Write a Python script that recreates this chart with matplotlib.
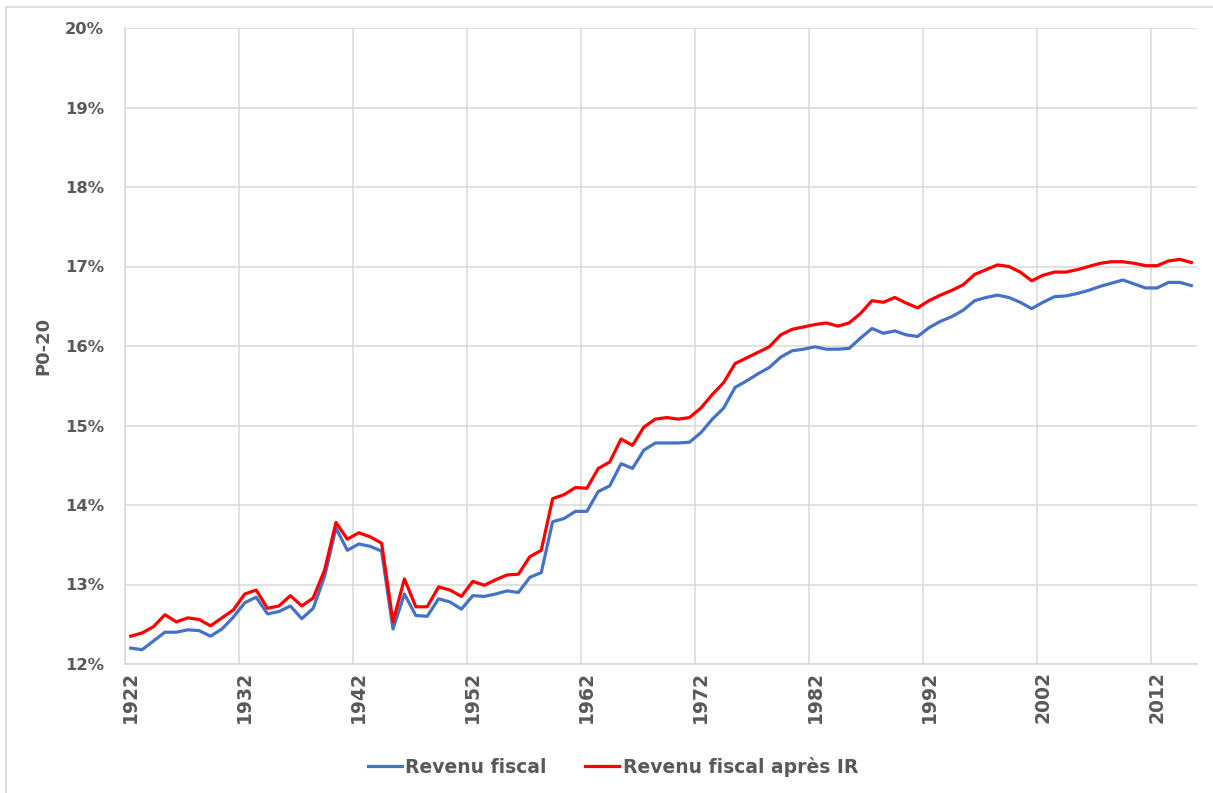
import numpy as np
import matplotlib
matplotlib.use("Agg")
import matplotlib.pyplot as plt
from matplotlib.patches import Rectangle

years = list(range(1922, 2016))

revenu_fiscal = [
    12.20, 12.18, 12.29, 12.40, 12.40, 12.43, 12.42, 12.35, 12.44, 12.59,
    12.77, 12.84, 12.63, 12.66, 12.73, 12.57, 12.70, 13.10, 13.71, 13.43,
    13.51, 13.48, 13.42, 12.44, 12.88, 12.61, 12.60, 12.82, 12.78, 12.69,
    12.86, 12.85, 12.88, 12.92, 12.90, 13.09, 13.15, 13.79, 13.83, 13.92,
    13.92, 14.17, 14.24, 14.52, 14.46, 14.69, 14.78, 14.78, 14.78, 14.79,
    14.91, 15.08, 15.22, 15.48, 15.56, 15.65, 15.73, 15.86, 15.94, 15.96,
    15.99, 15.96, 15.96, 15.97, 16.10, 16.22, 16.16, 16.19, 16.14, 16.12,
    16.23, 16.31, 16.37, 16.45, 16.57, 16.61, 16.64, 16.61, 16.55, 16.47,
    16.55, 16.62, 16.63, 16.66, 16.70, 16.75, 16.79, 16.83, 16.78, 16.73,
    16.73, 16.80, 16.80, 16.76,
]

revenu_apres_ir = [
    12.35, 12.39, 12.47, 12.62, 12.53, 12.58, 12.56, 12.48, 12.58, 12.68,
    12.88, 12.93, 12.70, 12.73, 12.86, 12.73, 12.83, 13.18, 13.78, 13.57,
    13.65, 13.60, 13.52, 12.53, 13.07, 12.72, 12.72, 12.97, 12.93, 12.85,
    13.04, 12.99, 13.06, 13.12, 13.13, 13.35, 13.43, 14.08, 14.13, 14.22,
    14.21, 14.46, 14.54, 14.83, 14.75, 14.98, 15.08, 15.10, 15.08, 15.10,
    15.22, 15.39, 15.54, 15.78, 15.85, 15.92, 15.99, 16.14, 16.21, 16.24,
    16.27, 16.29, 16.25, 16.29, 16.41, 16.57, 16.55, 16.61, 16.54, 16.48,
    16.57, 16.64, 16.70, 16.77, 16.90, 16.96, 17.02, 17.00, 16.93, 16.82,
    16.89, 16.93, 16.93, 16.96, 17.00, 17.04, 17.06, 17.06, 17.04, 17.01,
    17.01, 17.07, 17.09, 17.05,
]

y_ticks = [12, 13, 14, 15, 16, 17, 18, 19, 20]

txt = "#595959"
grid = "#d9d9d9"
plt.rcParams["font.family"] = ["DejaVu Sans"]

fig = plt.figure(figsize=(12.13, 7.93), dpi=100)
ax = fig.add_axes([125 / 1213, 1 - 664 / 793, (1197 - 125) / 1213, (664 - 28) / 793])

x = np.arange(len(years))
ax.plot(x, revenu_fiscal, color="#4472c4", lw=2.3, label="Revenu fiscal", zorder=3)
ax.plot(x, revenu_apres_ir, color="#ff0000", lw=2.3, label="Revenu fiscal après IR", zorder=4)

ax.set_xlim(-0.5, len(years) - 0.5)
ax.set_ylim(12, 20)

# category labels every 10 years, gridlines on category boundaries
major = [i for i in range(len(years)) if i % 10 == 0]
ax.set_xticks(major)
ax.set_xticklabels([str(years[i]) for i in major], rotation=90, fontsize=13.5,
                   fontweight="bold", color=txt)
ax.set_xticks([i - 0.5 for i in major], minor=True)
ax.tick_params(axis="x", which="both", length=0, pad=5)
ax.grid(axis="x", which="minor", color=grid, lw=1.1)

ax.set_yticks(y_ticks)
ax.set_yticklabels([f"{v}%" for v in y_ticks], fontsize=11.8, fontweight="bold", color=txt)
ax.tick_params(axis="y", length=0, pad=15)
ax.grid(axis="y", color=grid, lw=1.1)

ax.set_ylabel("P0-20", fontsize=13, fontweight="bold", color=txt, labelpad=9)

for s in ["top", "right"]:
    ax.spines[s].set_visible(False)
for s in ["left", "bottom"]:
    ax.spines[s].set_color(grid)
    ax.spines[s].set_linewidth(1.1)

fig.legend(*ax.get_legend_handles_labels(), loc="center",
           bbox_to_anchor=(613 / 1213, 1 - 767 / 793), ncol=2, frameon=False,
           prop={"size": 13.5, "weight": "bold"}, labelcolor=txt,
           handlelength=1.8, handletextpad=0.2, columnspacing=2.05)

# chart area border
fig.patches.append(Rectangle((6 / 1213, -0.1), 1.2, 1 - 6.5 / 793 + 0.1,
                             transform=fig.transFigure, fill=False,
                             edgecolor="#d9d9d9", lw=1.2))

fig.savefig("out.png", dpi=100)
